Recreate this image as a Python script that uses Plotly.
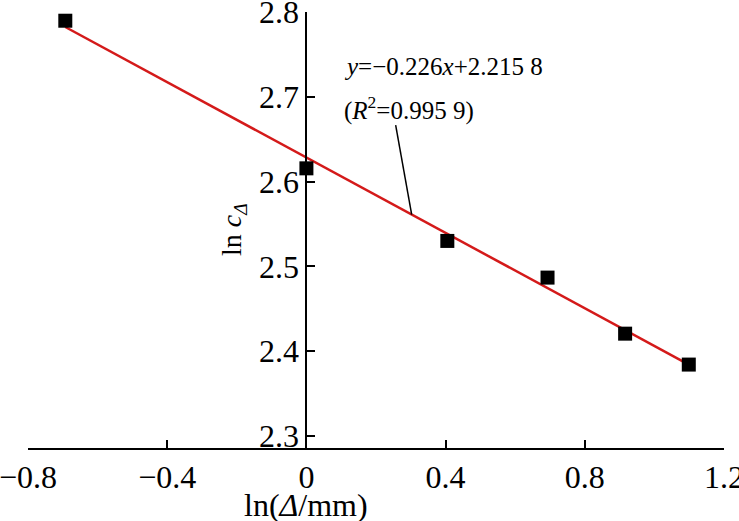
import plotly.graph_objects as go

# Data
x_vals = [-0.693, 0.0, 0.405, 0.693, 0.916, 1.099]
y_vals = [2.790, 2.6157, 2.530, 2.4867, 2.4205, 2.384]
fit_x = [-0.693, 1.099]
fit_y = [2.7826, 2.384]
leader_x = [0.2565, 0.3026]
leader_y = [2.6666, 2.561]
x_ticks = [-0.8, -0.4, 0, 0.4, 0.8, 1.2]
x_tick_labels = ["\u22120.8", "\u22120.4", "0", "0.4", "0.8", "1.2"]
y_ticks = [2.3, 2.4, 2.5, 2.6, 2.7, 2.8]
y_tick_labels = ["2.3", "2.4", "2.5", "2.6", "2.7", "2.8"]
eq_line1 = "<i>y</i>=\u22120.226<i>x</i>+2.215 8"
eq_line2 = "(<i>R</i><sup>2</sup>=0.995 9)"

FONT = "Liberation Serif"

fig = go.Figure()
fig.add_trace(go.Scatter(
    x=fit_x, y=fit_y, mode="lines",
    line=dict(color="#d41a1a", width=2.5),
    showlegend=False, cliponaxis=False, hoverinfo="skip"))
fig.add_trace(go.Scatter(
    x=x_vals, y=y_vals, mode="markers",
    marker=dict(symbol="square", size=14, color="black"),
    showlegend=False, cliponaxis=False))
fig.add_trace(go.Scatter(
    x=leader_x, y=leader_y, mode="lines",
    line=dict(color="black", width=1.5),
    showlegend=False, cliponaxis=False, hoverinfo="skip"))

fig.update_layout(
    width=739, height=521,
    margin=dict(l=28, r=15, t=12, b=73, autoexpand=False),
    paper_bgcolor="white", plot_bgcolor="white",
    font=dict(family=FONT, size=30, color="black"),
    xaxis=dict(
        range=[-0.8002, 1.2002], tickvals=x_ticks, ticktext=x_tick_labels,
        ticks="inside", ticklen=8, tickwidth=2, tickcolor="black",
        showline=True, linecolor="black", linewidth=2,
        showgrid=False, zeroline=False, domain=[0, 1], automargin=False,
        ticklabeloverflow="allow",
        tickfont=dict(family=FONT, size=32)),
    yaxis=dict(
        range=[2.2855, 2.8003], tickvals=y_ticks, ticktext=y_tick_labels,
        ticks="inside", ticklen=8, tickwidth=2, tickcolor="black",
        showline=True, linecolor="black", linewidth=2,
        showgrid=False, zeroline=False, automargin=False,
        ticklabeloverflow="allow",
        anchor="free", position=0.4,
        tickfont=dict(family=FONT, size=32)),
)

fig.add_annotation(x=0.1037, y=2.7362, xref="x", yref="y", text=eq_line1,
                   showarrow=False, xanchor="left", yanchor="middle",
                   font=dict(family=FONT, size=25))
fig.add_annotation(x=0.1037, y=2.6867, xref="x", yref="y", text=eq_line2,
                   showarrow=False, xanchor="left", yanchor="middle",
                   font=dict(family=FONT, size=25))
fig.add_annotation(x=0, y=-0.13, xref="x", yref="paper",
                   text="ln(<i>\u0394</i>/mm)", showarrow=False,
                   xanchor="center", yanchor="middle",
                   font=dict(family=FONT, size=32))
fig.add_annotation(x=0.2943, y=0.502, xref="paper", yref="paper",
                   text="ln <i>c</i><sub><i>\u0394</i></sub>", showarrow=False,
                   textangle=-90, xanchor="center", yanchor="middle",
                   font=dict(family=FONT, size=28))

fig.write_html("out.html",
               config={"displayModeBar": False},
               post_script="document.body.style.margin='0px';"
                           "document.body.style.overflow='hidden';")
